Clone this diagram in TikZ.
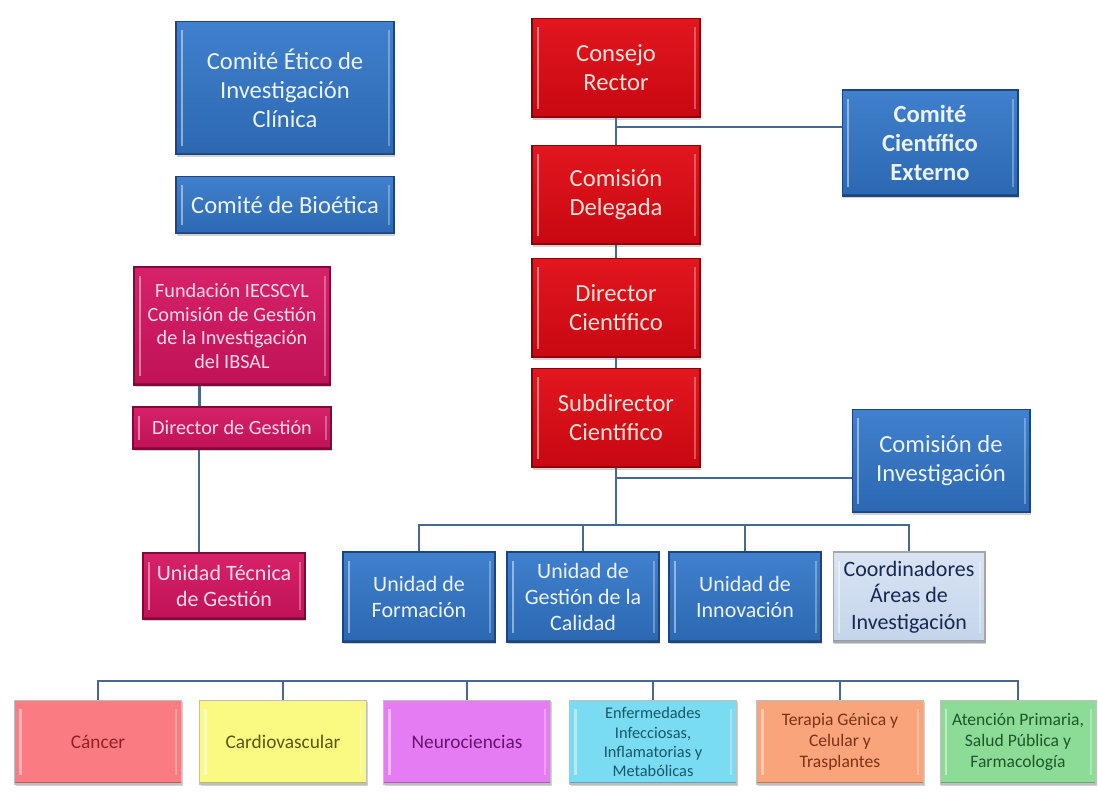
\documentclass[tikz,border=0pt]{standalone}
\usepackage{fontspec}
\setmainfont{Carlito}
\usepackage{tikz}
\usetikzlibrary{calc}
\usetikzlibrary{shadows}
\definecolor{box-blue}{RGB}{44,104,178}
\definecolor{box-blue-top}{RGB}{64,128,204}
\definecolor{box-blue-dark}{RGB}{28,68,128}
\definecolor{box-red}{RGB}{200,8,18}
\definecolor{box-red-top}{RGB}{226,22,30}
\definecolor{box-red-dark}{RGB}{140,0,8}
\definecolor{box-mag}{RGB}{192,18,86}
\definecolor{box-mag-top}{RGB}{214,34,104}
\definecolor{box-mag-dark}{RGB}{130,8,56}
\definecolor{box-grey}{RGB}{196,212,234}
\definecolor{box-grey-top}{RGB}{216,228,244}
\definecolor{line-blue}{RGB}{72,104,148}
\definecolor{area-cancer}{RGB}{250,124,130}
\definecolor{area-cardio}{RGB}{250,250,130}
\definecolor{area-neuro}{RGB}{230,124,244}
\definecolor{area-enf}{RGB}{122,220,242}
\definecolor{area-ter}{RGB}{250,164,124}
\definecolor{area-aten}{RGB}{140,220,152}
\tikzstyle{org}=[draw, line width=0.6pt, align=center, inner sep=2pt,
  drop shadow={shadow xshift=0.8pt,shadow yshift=-1.2pt,opacity=0.35},
  path picture={
    \draw[white,opacity=0.45,line width=1.4pt] ([xshift=3.5pt,yshift=-5pt]path picture bounding box.north west) -- ([xshift=3.5pt,yshift=5pt]path picture bounding box.south west);
    \draw[white,opacity=0.3,line width=1.2pt] ([xshift=-3pt,yshift=-5pt]path picture bounding box.north east) -- ([xshift=-3pt,yshift=5pt]path picture bounding box.south east);
    \draw[black,opacity=0.25,line width=2pt] (path picture bounding box.south west) -- (path picture bounding box.south east);
  }]
\tikzstyle{bluebox}=[org, draw=box-blue-dark, top color=box-blue-top, bottom color=box-blue, text={rgb,255:red,236;green,243;blue,252}, font=\fontsize{14}{16.5}\selectfont]
\tikzstyle{redbox}=[org, draw=box-red-dark, top color=box-red-top, bottom color=box-red, text={rgb,255:red,255;green,226;blue,216}, font=\fontsize{14}{16.5}\selectfont, minimum width=3.36cm, minimum height=1.98cm]
\tikzstyle{magbox}=[org, draw=box-mag-dark, top color=box-mag-top, bottom color=box-mag, text={rgb,255:red,255;green,218;blue,232}, font=\fontsize{11.5}{13.5}\selectfont]
\tikzstyle{unitbox}=[bluebox, font=\fontsize{12.5}{15}\selectfont, minimum width=3.04cm, minimum height=1.8cm]
\tikzstyle{greybox}=[unitbox, draw=gray!70, top color=box-grey-top, bottom color=box-grey, text={rgb,255:red,24;green,40;blue,80}]
\tikzstyle{areabox}=[org, draw=black!25, font=\fontsize{10}{11.8}\selectfont, minimum width=3.34cm, minimum height=1.68cm]
\tikzstyle{conn}=[draw=line-blue, line width=1.5pt]

\begin{document}
\begin{tikzpicture}[x=0.02cm,y=-0.02cm]
	\useasboundingbox[fill=white] (0,0) rectangle (1098,796);
	\node[bluebox, minimum width=4.36cm, minimum height=2.66cm] (cei) at (285,88) {Comité Ético de\\Investigación\\Clínica};
	\node[bluebox, minimum width=4.36cm, minimum height=1.14cm] (bioetica) at (285,205) {Comité de Bioética};
	\node[redbox] (consejo) at (616,68) {Consejo\\Rector};
	\node[redbox] (delegada) at (616,195) {Comisión\\Delegada};
	\node[redbox] (director) at (616,308) {Director\\Científico};
	\node[redbox] (subdir) at (616,418) {Subdirector\\Científico};
	\node[bluebox, font=\fontsize{14}{16.5}\selectfont\bfseries, minimum width=3.52cm, minimum height=2.12cm] (externo) at (930,143) {Comité\\Científico\\Externo};
	\node[bluebox, minimum width=3.56cm, minimum height=2.06cm] (cinv) at (941,461) {Comisión de\\Investigación};
	\node[magbox, minimum width=3.92cm, minimum height=2.36cm] (fund) at (232,326) {Fundación IECSCYL\\Comisión de Gestión\\de la Investigación\\del IBSAL};
	\node[magbox, minimum width=3.96cm, minimum height=0.84cm] (dirgest) at (232,428) {Director de Gestión};
	\node[magbox, font=\fontsize{12.5}{15}\selectfont, minimum width=3.24cm, minimum height=1.32cm] (utg) at (224,586) {Unidad Técnica\\de Gestión};
	\node[unitbox] (uform) at (419,597) {Unidad de\\Formación};
	\node[unitbox] (ucal) at (583,597) {Unidad de\\Gestión de la\\Calidad};
	\node[unitbox] (uinn) at (745,597) {Unidad de\\Innovación};
	\node[greybox] (coord) at (909,597) {Coordinadores\\Áreas de\\Investigación};
	\node[areabox, fill=area-cancer, text={rgb,255:red,150;green,30;blue,40}, font=\fontsize{11}{13}\selectfont] (cancer) at (98,742) {Cáncer};
	\node[areabox, fill=area-cardio, text={rgb,255:red,88;green,88;blue,20}, font=\fontsize{11}{13}\selectfont] (cardio) at (283,742) {Cardiovascular};
	\node[areabox, fill=area-neuro, text={rgb,255:red,100;green,20;blue,110}, font=\fontsize{11}{13}\selectfont] (neuro) at (467,742) {Neurociencias};
	\node[areabox, fill=area-enf, text={rgb,255:red,20;green,88;blue,108}, font=\fontsize{9.3}{10.9}\selectfont] (enferm) at (653,742) {Enfermedades\\Infecciosas,\\Inflamatorias y\\Metabólicas};
	\node[areabox, fill=area-ter, text={rgb,255:red,128;green,48;blue,20}] (terapia) at (840,742) {Terapia Génica y\\Celular y\\Trasplantes};
	\node[areabox, fill=area-aten, text={rgb,255:red,28;green,88;blue,40}, minimum width=3.12cm] (atencion) at (1018,742) {Atención Primaria,\\Salud Pública y\\Farmacología};
	\coordinate (bus1) at (0,525);
	\coordinate (bus2) at (0,681);
	\draw[conn] (consejo) -- (delegada);
	\draw[conn] ([yshift=0.32cm]externo.west) -| (consejo.south);
	\draw[conn] (delegada) -- (director);
	\draw[conn] (director) -- (subdir);
	\draw[conn] ([yshift=-0.34cm]cinv.west) -| (subdir.south);
	\draw[conn] (subdir.south) -- (subdir.south |- bus1);
	\draw[conn] (uform.north) -- (uform.north |- bus1) -- (coord.north |- bus1) -- (coord.north);
	\foreach \n in {ucal,uinn}
		\draw[conn] (\n.north) -- (\n.north |- bus1);
	\draw[conn] ([xshift=-0.65cm]fund.south) -- ([xshift=-0.65cm]fund.south |- dirgest.north);
	\draw[conn] ([xshift=-0.66cm]dirgest.south) -- ([xshift=-0.66cm]dirgest.south |- utg.north);
	\draw[conn] (cancer.north) -- (cancer.north |- bus2) -| (atencion.north);
	\foreach \n in {cardio,neuro,enferm,terapia}
		\draw[conn] (\n.north) -- (\n.north |- bus2);
\end{tikzpicture}
\end{document}
